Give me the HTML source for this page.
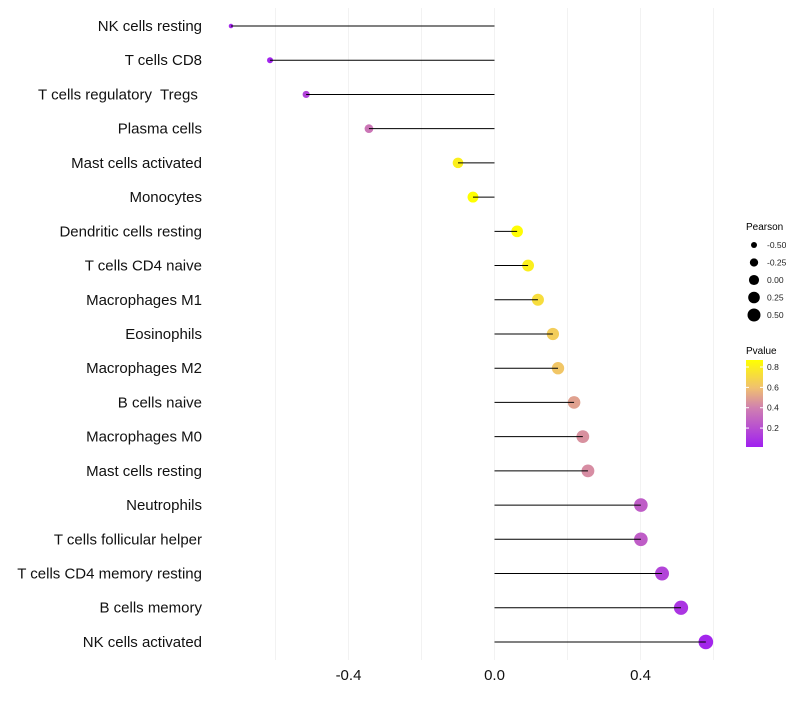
<!DOCTYPE html>
<html><head><meta charset="utf-8"><style>
body{margin:0;background:#fff;font-family:"Liberation Sans",sans-serif}
svg text{font-family:"Liberation Sans",sans-serif;white-space:pre}
</style></head><body>
<svg id="chart" width="800" height="700" xmlns="http://www.w3.org/2000/svg">
<defs><linearGradient id="pg" x1="0" y1="1" x2="0" y2="0">
<stop offset="0" stop-color="#a020f0"/><stop offset="0.45" stop-color="#d080b0"/><stop offset="0.68" stop-color="#f0c070"/><stop offset="1" stop-color="#ffff00"/></linearGradient></defs>
<g id="grid"></g>
<g id="dots"></g>
<g id="marks"></g>
<g id="labels"></g>
<g id="xt"></g>
<g id="sl">
<text x="746" y="230" font-size="10">Pearson</text>
</g>
<g>
<text x="746" y="354" font-size="10">Pvalue</text>
<rect x="746" y="360" width="17" height="87" fill="url(#pg)"/>
<g id="cl"></g>
</g>
</svg>
<script>
const categories=["NK cells resting","T cells CD8","T cells regulatory  Tregs ","Plasma cells","Mast cells activated","Monocytes","Dendritic cells resting","T cells CD4 naive","Macrophages M1","Eosinophils","Macrophages M2","B cells naive","Macrophages M0","Mast cells resting","Neutrophils","T cells follicular helper","T cells CD4 memory resting","B cells memory","NK cells activated"];
const pearson=[-0.722,-0.615,-0.516,-0.344,-0.100,-0.059,0.062,0.092,0.119,0.160,0.174,0.218,0.242,0.256,0.401,0.401,0.459,0.511,0.579];
const pvalue=[0.05,0.03,0.15,0.36,0.8,0.87,0.86,0.8,0.72,0.65,0.62,0.5,0.45,0.44,0.26,0.26,0.16,0.1,0.04];
const xTicks=[-0.4,0,0.4];
const xTickLabels=["-0.4","0.0","0.4"];
const minorGrid=[-0.6,-0.2,0.2,0.6];
const sizeLegend=[-0.5,-0.25,0,0.25,0.5];
const sizeLegendLabels=["-0.50","-0.25","0.00","0.25","0.50"];
const colorTicks=[0.2,0.4,0.6,0.8];
const NS="http://www.w3.org/2000/svg";
const x=v=>494.5+v*365;
const y=i=>26+i*34.22;
const r=v=>Math.sqrt(Math.max(2.5,31.7+37*v));
const rl=v=>Math.sqrt(25.5+33*v);
const pY=p=>447-(p-0.014)/(0.869-0.014)*87;
function lerp(a,b,t){return a.map((c,k)=>Math.round(c+(b[k]-c)*t));}
const stops=[[0,[160,32,240]],[0.45,[208,128,176]],[0.68,[240,192,112]],[1,[255,255,0]]];
function col(p){let t=Math.min(1,Math.max(0,(p-0.014)/(0.869-0.014)));for(let k=0;k<stops.length-1;k++){if(t<=stops[k+1][0]){const c=lerp(stops[k][1],stops[k+1][1],(t-stops[k][0])/(stops[k+1][0]-stops[k][0]));return `rgb(${c})`;}}return "rgb(255,255,0)";}
function mk(t,a,p){const e=document.createElementNS(NS,t);for(const k in a)e.setAttribute(k,a[k]);p.appendChild(e);return e;}
const G=document.getElementById('grid'),M=document.getElementById('marks'),D=document.getElementById('dots'),L=document.getElementById('labels'),XT=document.getElementById('xt');
[...xTicks,...minorGrid].forEach(v=>{const l=mk('line',{x1:x(v),x2:x(v),y1:8,y2:660,stroke:'#f2f2f2','stroke-width':1},G);

});
categories.forEach((c,i)=>{
const d=mk('circle',{cx:x(pearson[i]),cy:y(i),r:r(pearson[i]),fill:col(pvalue[i])},D);


const ln=mk('line',{x1:x(0),x2:x(pearson[i]),y1:y(i),y2:y(i),stroke:'#000','stroke-width':1},M);


const t=mk('text',{x:202,y:y(i)+5,'text-anchor':'end','font-size':15,fill:'#111'},L);t.textContent=c;


});
xTicks.forEach((v,i)=>{const t=mk('text',{x:x(v),y:680,'text-anchor':'middle','font-size':15,fill:'#111'},XT);t.textContent=xTickLabels[i];

});
const SL=document.getElementById('sl');
sizeLegend.forEach((v,i)=>{const cy=245+i*17.5;
const c=mk('circle',{cx:754,cy:cy,r:rl(v),fill:'#000'},SL);


const t=mk('text',{x:767,y:cy+3,'font-size':8.5,fill:'#222'},SL);t.textContent=sizeLegendLabels[i];

});
const CL=document.getElementById('cl');
colorTicks.forEach(v=>{const yy=pY(v);
mk('line',{x1:746,x2:749,y1:yy,y2:yy,stroke:'#fff'},CL);mk('line',{x1:760,x2:763,y1:yy,y2:yy,stroke:'#fff'},CL);
const t=mk('text',{x:767,y:yy+3,'font-size':8.5,fill:'#222'},CL);t.textContent=v.toFixed(1);

});
</script>
</body></html>
